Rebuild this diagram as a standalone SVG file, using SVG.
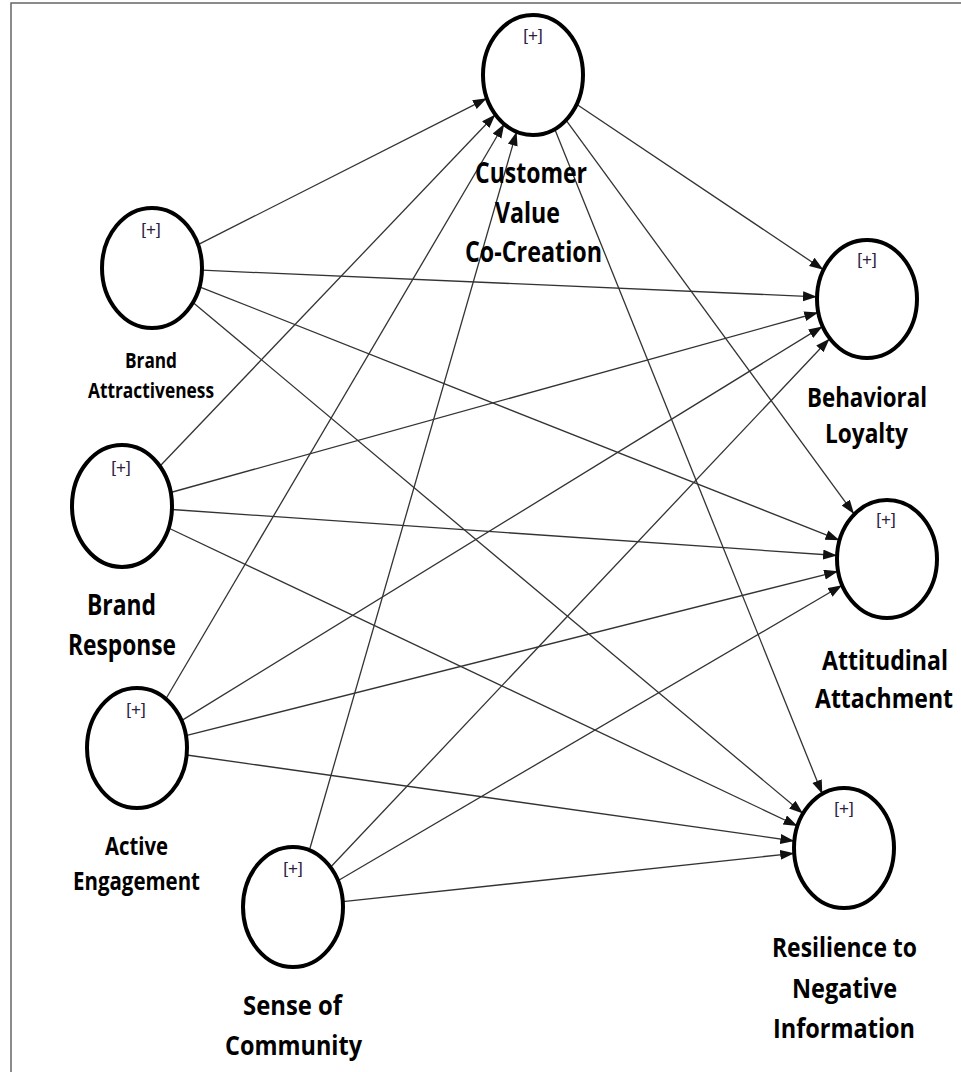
<svg xmlns="http://www.w3.org/2000/svg" width="961" height="1072" viewBox="0 0 961 1072">
<defs>
<marker id="ah" markerUnits="userSpaceOnUse" markerWidth="15" markerHeight="11" refX="14" refY="5" orient="auto">
<path d="M0,0 L14,5 L0,10 z" fill="#111"/>
</marker>
<style>
.n{fill:#fff;stroke:#000;stroke-width:4}
.c line{stroke:#333;stroke-width:1.3;marker-end:url(#ah)}
.p{font-family:"Liberation Sans",Arial,sans-serif;font-size:17px;fill:#2a2040;text-anchor:middle}
.l{font-family:"Open Sans","DejaVu Sans",sans-serif;font-weight:bold;fill:#000;text-anchor:middle}
</style>
</defs>
<rect width="961" height="1072" fill="#fff"/>
<path d="M11,1072 V3 H961" fill="none" stroke="#666" stroke-width="1.5"/>
<g class="c" id="connectors">
<line x1="198.1" y1="244.7" x2="486.9" y2="98.3"/>
<line x1="159.6" y1="466.5" x2="495.4" y2="114.5"/>
<line x1="165.8" y1="699.0" x2="504.2" y2="124.0"/>
<line x1="309.4" y1="850.3" x2="516.6" y2="131.7"/>
<line x1="202.0" y1="270.2" x2="817.0" y2="296.8"/>
<line x1="199.5" y1="286.8" x2="839.5" y2="540.2"/>
<line x1="193.0" y1="302.4" x2="803.0" y2="813.6"/>
<line x1="170.7" y1="492.5" x2="818.3" y2="312.5"/>
<line x1="171.9" y1="509.5" x2="837.1" y2="555.5"/>
<line x1="168.5" y1="528.0" x2="797.5" y2="826.0"/>
<line x1="181.5" y1="720.6" x2="822.5" y2="326.4"/>
<line x1="185.9" y1="735.7" x2="838.1" y2="571.3"/>
<line x1="186.7" y1="755.0" x2="794.3" y2="841.0"/>
<line x1="330.5" y1="867.3" x2="829.5" y2="338.7"/>
<line x1="337.9" y1="880.7" x2="842.1" y2="585.3"/>
<line x1="342.8" y1="901.7" x2="794.2" y2="853.3"/>
<line x1="576.6" y1="104.3" x2="823.4" y2="269.7"/>
<line x1="566.0" y1="120.1" x2="854.0" y2="513.9"/>
<line x1="554.7" y1="129.0" x2="822.3" y2="794.0"/>
</g>
<g id="cvc">
<ellipse class="n" cx="533" cy="75" rx="50" ry="60"/>
<text class="p" x="533" y="41">[+]</text>
<text class="l" font-size="28" x="531" y="183" textLength="112" lengthAdjust="spacingAndGlyphs">Customer</text>
<text class="l" font-size="28" x="527.5" y="223" textLength="65" lengthAdjust="spacingAndGlyphs">Value</text>
<text class="l" font-size="28" x="533.5" y="262" textLength="137" lengthAdjust="spacingAndGlyphs">Co-Creation</text>
</g>
<g id="ba">
<ellipse class="n" cx="152" cy="268" rx="50" ry="60"/>
<text class="p" x="151" y="235">[+]</text>
<text class="l" font-size="22" x="151" y="368" textLength="52" lengthAdjust="spacingAndGlyphs">Brand</text>
<text class="l" font-size="22" x="151" y="398" textLength="126" lengthAdjust="spacingAndGlyphs">Attractiveness</text>
</g>
<g id="br">
<ellipse class="n" cx="122" cy="506" rx="50" ry="61"/>
<text class="p" x="121" y="473">[+]</text>
<text class="l" font-size="28" x="121.5" y="615" textLength="69" lengthAdjust="spacingAndGlyphs">Brand</text>
<text class="l" font-size="28" x="122" y="655" textLength="108" lengthAdjust="spacingAndGlyphs">Response</text>
</g>
<g id="ae">
<ellipse class="n" cx="137" cy="748" rx="50" ry="60"/>
<text class="p" x="136" y="715">[+]</text>
<text class="l" font-size="25" x="136.5" y="855" textLength="63" lengthAdjust="spacingAndGlyphs">Active</text>
<text class="l" font-size="25" x="136.5" y="890" textLength="127" lengthAdjust="spacingAndGlyphs">Engagement</text>
</g>
<g id="sc">
<ellipse class="n" cx="293" cy="907" rx="50" ry="60"/>
<text class="p" x="293" y="874">[+]</text>
<text class="l" font-size="26" x="292.5" y="1015" textLength="99" lengthAdjust="spacingAndGlyphs">Sense of</text>
<text class="l" font-size="26" x="293.5" y="1055" textLength="137" lengthAdjust="spacingAndGlyphs">Community</text>
</g>
<g id="bl">
<ellipse class="n" cx="867" cy="299" rx="50" ry="59"/>
<text class="p" x="867" y="265">[+]</text>
<text class="l" font-size="26" x="867" y="407" textLength="120" lengthAdjust="spacingAndGlyphs">Behavioral</text>
<text class="l" font-size="26" x="866.5" y="443" textLength="83" lengthAdjust="spacingAndGlyphs">Loyalty</text>
</g>
<g id="aa">
<ellipse class="n" cx="887" cy="559" rx="50" ry="59"/>
<text class="p" x="886" y="525">[+]</text>
<text class="l" font-size="26" x="885" y="670" textLength="126" lengthAdjust="spacingAndGlyphs">Attitudinal</text>
<text class="l" font-size="26" x="884" y="708" textLength="138" lengthAdjust="spacingAndGlyphs">Attachment</text>
</g>
<g id="rn">
<ellipse class="n" cx="844" cy="848" rx="50" ry="60"/>
<text class="p" x="844" y="814">[+]</text>
<text class="l" font-size="26" x="844.5" y="957" textLength="145" lengthAdjust="spacingAndGlyphs">Resilience to</text>
<text class="l" font-size="26" x="844.5" y="998" textLength="105" lengthAdjust="spacingAndGlyphs">Negative</text>
<text class="l" font-size="26" x="844" y="1038" textLength="142" lengthAdjust="spacingAndGlyphs">Information</text>
</g>
</svg>
